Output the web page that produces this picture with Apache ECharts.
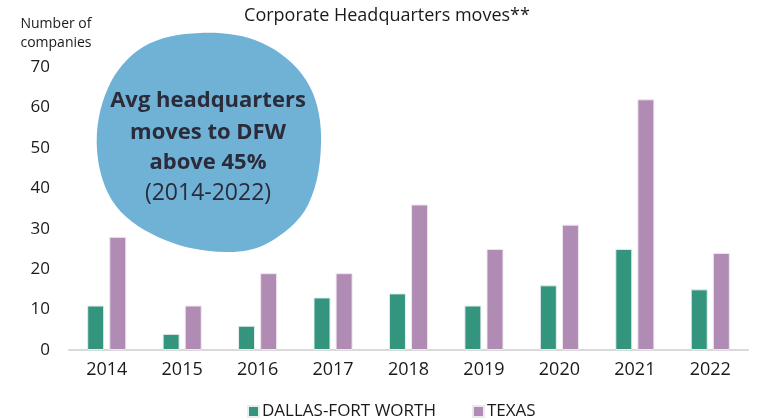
<!DOCTYPE html>
<html>
<head>
<meta charset="utf-8">
<script src="https://cdn.jsdelivr.net/npm/echarts@6/dist/echarts.min.js"></script>
<style>
  html, body { margin: 0; padding: 0; background: #fff; }
  #chart { width: 758px; height: 420px; }
</style>
</head>
<body>
<div id="chart"></div>
<script>
// 年份
var years = ["2014", "2015", "2016", "2017", "2018", "2019", "2020", "2021", "2022"];
// 达拉斯-沃斯堡
var dfwMoves = [11, 4, 6, 13, 14, 11, 16, 25, 15];
// 德州
var texasMoves = [28, 11, 19, 19, 36, 25, 31, 62, 24];
// 刻度
var yTicks = [0, 10, 20, 30, 40, 50, 60, 70];
// 气泡文字
var blobLines = ["Avg headquarters", "moves to DFW", "above 45%", "(2014-2022)"];

var font = "Open Sans";
var chart = echarts.init(document.getElementById("chart"));

// 气泡外形
var blobPoints = [
  [200, 33], [262, 43], [306, 80], [321, 135], [308, 205], [268, 243],
  [225, 252], [165, 240], [116, 206], [97, 150], [108, 88], [143, 47],
];

var option = {
  animation: false,
  textStyle: { fontFamily: font },
  title: {
    text: "Corporate Headquarters moves**",
    left: 382,
    top: 2,
    textAlign: "center",
    textStyle: { fontFamily: font, fontSize: 18, fontWeight: "normal", color: "#1a1a1a" },
  },
  legend: {
    top: 398,
    left: 242,
    itemWidth: 11,
    itemHeight: 11,
    itemGap: 36,
    icon: "rect",
    textStyle: { fontFamily: font, fontSize: 17, color: "#1a1a1a", padding: [0, 0, 0, -2] },
    data: ["DALLAS-FORT WORTH", "TEXAS"],
  },
  grid: { left: 69, right: 10, top: 67, bottom: 70 },
  xAxis: {
    type: "category",
    data: years,
    axisLine: { lineStyle: { color: "#d9d9d9", width: 2 } },
    axisTick: { show: false },
    axisLabel: { color: "#1a1a1a", fontSize: 18, fontFamily: font, margin: 11 },
  },
  yAxis: {
    type: "value",
    min: yTicks[0],
    max: yTicks[yTicks.length - 1],
    interval: 10,
    name: "Number of\ncompanies",
    nameLocation: "end",
    nameGap: 14,
    nameTextStyle: { fontFamily: font, fontSize: 14, color: "#1a1a1a", align: "center", lineHeight: 19, padding: [0, 0, 0, -26] },
    splitLine: { show: false },
    axisLine: { show: false },
    axisTick: { show: false },
    axisLabel: { color: "#1a1a1a", fontSize: 17, fontFamily: font, margin: 19 },
  },
  series: [
    {
      name: "DALLAS-FORT WORTH",
      type: "bar",
      data: dfwMoves,
      barWidth: 17,
      barGap: "30%",
      itemStyle: { color: "#33957d", borderColor: "#e6efec", borderWidth: 1 },
    },
    {
      name: "TEXAS",
      type: "bar",
      data: texasMoves,
      barWidth: 17,
      itemStyle: { color: "#b08bb4", borderColor: "#efe7f0", borderWidth: 1 },
    },
  ],
  graphic: [
    {
      type: "polygon",
      z: 10,
      shape: { points: blobPoints, smooth: 0.35 },
      style: { fill: "#6fb2d6" },
    },
    {
      type: "text",
      z: 11,
      x: 208,
      y: 101,
      style: { text: blobLines[0], font: "bold 22px '" + font + "'", fill: "#2b2b3a", align: "center", verticalAlign: "middle" },
    },
    {
      type: "text",
      z: 11,
      x: 208,
      y: 133,
      style: { text: blobLines[1], font: "bold 22px '" + font + "'", fill: "#2b2b3a", align: "center", verticalAlign: "middle" },
    },
    {
      type: "text",
      z: 11,
      x: 208,
      y: 163,
      style: { text: blobLines[2], font: "bold 22px '" + font + "'", fill: "#2b2b3a", align: "center", verticalAlign: "middle" },
    },
    {
      type: "text",
      z: 11,
      x: 208,
      y: 193,
      style: { text: blobLines[3], font: "23px '" + font + "'", fill: "#2b2b3a", align: "center", verticalAlign: "middle" },
    },
  ],
};

chart.setOption(option);
</script>
</body>
</html>
